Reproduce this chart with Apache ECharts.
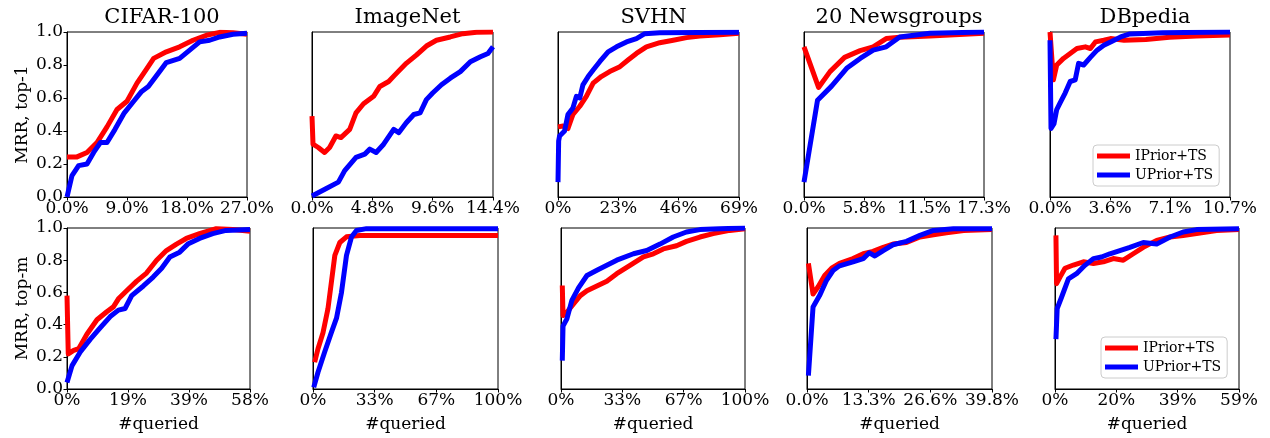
<!DOCTYPE html>
<html>
<head>
<meta charset="utf-8">
<script src="https://cdn.jsdelivr.net/npm/echarts@6/dist/echarts.min.js"></script>
<style>html,body{margin:0;padding:0;background:#fff;}#c{width:1270px;height:438px;}</style>
</head>
<body>
<div id="c"></div>
<script>
// ---------- Data (x = % queried, y = MRR) ----------
const datasets = ['CIFAR-100', 'ImageNet', 'SVHN', '20 Newsgroups', 'DBpedia'];
const rowLabels = ['MRR, top-1', 'MRR, top-m'];
const seriesNames = ['IPrior+TS', 'UPrior+TS'];

// Top row x-axis ranges and tick labels
const top1XMax = [27.0, 14.4, 69, 17.3, 10.7];
const top1Ticks = [
  ['0.0%', '9.0%', '18.0%', '27.0%'],
  ['0.0%', '4.8%', '9.6%', '14.4%'],
  ['0%', '23%', '46%', '69%'],
  ['0.0%', '5.8%', '11.5%', '17.3%'],
  ['0.0%', '3.6%', '7.1%', '10.7%']
];
// Bottom row
const topmXMax = [58, 100, 100, 39.8, 59];
const topmTicks = [
  ['0%', '19%', '39%', '58%'],
  ['0%', '33%', '67%', '100%'],
  ['0%', '33%', '67%', '100%'],
  ['0.0%', '13.3%', '26.6%', '39.8%'],
  ['0%', '20%', '39%', '59%']
];
const yTicks = ['0.0', '0.2', '0.4', '0.6', '0.8', '1.0'];

// CIFAR-100, top-1
const cifarTop1_IPrior = [[0,0.243],[1.5,0.243],[3,0.27],[4.5,0.33],[6,0.425],[7.5,0.53],[9,0.58],[10.5,0.69],[12,0.78],[13,0.84],[14.9,0.88],[16.9,0.91],[18.9,0.95],[20.9,0.98],[22.9,0.998],[24.9,0.996],[27,0.986]];
const cifarTop1_UPrior = [[0,0],[0.75,0.13],[1.74,0.19],[3,0.2],[4,0.27],[5,0.33],[6,0.33],[7.2,0.41],[8.6,0.51],[10,0.58],[11.2,0.64],[12.2,0.67],[13.5,0.74],[14.9,0.815],[16.9,0.84],[18.4,0.89],[19.9,0.94],[21.4,0.95],[22.9,0.97],[24.9,0.986],[27,0.992]];
// ImageNet, top-1
const imagenetTop1_IPrior = [[0,0.49],[0.08,0.32],[0.5,0.30],[1.0,0.27],[1.4,0.30],[1.9,0.37],[2.3,0.36],[3.0,0.41],[3.5,0.51],[4.1,0.565],[4.9,0.61],[5.4,0.67],[6.1,0.70],[6.6,0.74],[7.5,0.81],[8.3,0.86],[9.1,0.915],[9.9,0.95],[11.0,0.97],[12.0,0.99],[13.1,0.998],[14.4,1.0]];
const imagenetTop1_UPrior = [[0,0.006],[1.1,0.05],[2.1,0.09],[2.6,0.16],[3.5,0.24],[4.2,0.26],[4.6,0.29],[5.1,0.27],[5.7,0.32],[6.5,0.41],[6.9,0.39],[7.5,0.45],[8.1,0.50],[8.6,0.51],[9.1,0.59],[9.6,0.63],[10.3,0.68],[11.0,0.72],[11.8,0.76],[12.6,0.82],[13.4,0.85],[14.0,0.87],[14.4,0.91]];
// SVHN, top-1
const svhnTop1_IPrior = [[0,0.425],[1.9,0.43],[3.8,0.415],[5.7,0.50],[8.3,0.55],[10.8,0.61],[13.4,0.69],[16.5,0.73],[19.7,0.76],[23.6,0.79],[26.7,0.83],[29.9,0.87],[33.7,0.91],[38.8,0.935],[43.9,0.95],[49.0,0.966],[54.1,0.976],[61.7,0.984],[69,0.992]];
const svhnTop1_UPrior = [[0,0.09],[0.25,0.34],[0.6,0.37],[2.5,0.40],[3.8,0.50],[5.7,0.54],[7,0.61],[8.3,0.60],[9.5,0.68],[11.5,0.73],[13.4,0.77],[15.9,0.82],[19.1,0.88],[22.3,0.91],[26.1,0.94],[29.9,0.96],[33.1,0.99],[38.8,0.996],[69,0.998]];
// 20 Newsgroups, top-1
const newsTop1_IPrior = [[0,0.91],[1.4,0.664],[2.5,0.76],[3.9,0.846],[5.4,0.887],[6.65,0.91],[7.9,0.96],[9.2,0.968],[12.1,0.976],[17.3,0.992]];
const newsTop1_UPrior = [[0,0.09],[1.3,0.587],[2.65,0.672],[4.1,0.78],[5.4,0.84],[6.65,0.89],[7.9,0.91],[9.2,0.97],[12.1,0.992],[17.3,1.0]];
// DBpedia, top-1
const dbpediaTop1_IPrior = [[0,1.0],[0.08,0.99],[0.2,0.71],[0.4,0.80],[0.8,0.84],[1.2,0.87],[1.6,0.90],[2.1,0.91],[2.4,0.90],[2.7,0.94],[3.2,0.95],[3.6,0.96],[4.4,0.95],[5.7,0.955],[7.1,0.968],[8.7,0.976],[10.7,0.982]];
const dbpediaTop1_UPrior = [[0,0.95],[0.06,0.415],[0.24,0.445],[0.4,0.53],[0.6,0.57],[0.9,0.63],[1.2,0.70],[1.5,0.71],[1.7,0.81],[2.0,0.80],[2.4,0.846],[2.8,0.89],[3.2,0.92],[3.6,0.94],[4.2,0.97],[4.75,0.988],[6.7,0.996],[10.7,1.0]];

// CIFAR-100, top-m
const cifarTopm_IPrior = [[0,0.58],[0.4,0.218],[2.1,0.24],[3.7,0.25],[6.3,0.34],[9.5,0.43],[12.6,0.48],[14.7,0.51],[16.3,0.56],[18.9,0.61],[22.1,0.67],[25.2,0.72],[28.4,0.80],[31.5,0.86],[34.7,0.90],[37.8,0.935],[42,0.965],[47.3,0.996],[52.5,0.99],[58,0.98]];
const cifarTopm_UPrior = [[0,0.04],[1.6,0.145],[4.2,0.23],[7.4,0.31],[10.5,0.38],[13.7,0.45],[16.3,0.49],[18.4,0.50],[20.5,0.58],[24.2,0.64],[27.3,0.695],[30,0.75],[32.6,0.82],[35.7,0.85],[38.3,0.90],[42,0.935],[46.2,0.965],[50.4,0.985],[58,0.99]];
// ImageNet, top-m
const imagenetTopm_IPrior = [[0.9,0.166],[2.7,0.25],[5.4,0.35],[8.1,0.50],[9.9,0.66],[11.8,0.83],[14.5,0.91],[18.1,0.945],[25.3,0.954],[100,0.954]];
const imagenetTopm_UPrior = [[0.4,0.01],[2.7,0.104],[6.3,0.23],[9.9,0.35],[12.7,0.44],[15.4,0.60],[18.1,0.83],[20.8,0.944],[23.5,0.985],[28.9,0.996],[100,0.996]];
// SVHN, top-m
const svhnTopm_IPrior = [[0.7,0.643],[1.1,0.456],[3.2,0.477],[6.9,0.53],[10.5,0.58],[14.1,0.61],[19.5,0.64],[24.9,0.67],[30.3,0.716],[37.5,0.768],[44.8,0.82],[50.2,0.84],[55.6,0.87],[62.8,0.89],[68.2,0.917],[75.5,0.944],[82.7,0.965],[91.7,0.985],[100,0.996]];
const svhnTopm_UPrior = [[0.7,0.176],[1.1,0.39],[3.2,0.436],[5.9,0.55],[9.6,0.63],[14.1,0.705],[19.5,0.737],[24.9,0.768],[30.3,0.80],[39.4,0.84],[46.6,0.86],[53.8,0.90],[61,0.944],[68.2,0.975],[75.5,0.99],[86.3,0.996],[100,1.0]];
// 20 Newsgroups, top-m
const newsTopm_IPrior = [[0.3,0.78],[1.3,0.59],[2.4,0.635],[3.8,0.705],[5.3,0.75],[7.0,0.78],[9.9,0.81],[12.1,0.84],[14.2,0.855],[16.4,0.88],[18.5,0.90],[21.4,0.91],[24.3,0.944],[27.2,0.958],[30,0.97],[33.7,0.985],[39.8,0.99]];
const newsTopm_UPrior = [[0.3,0.083],[1.3,0.51],[2.7,0.58],[4.2,0.675],[5.6,0.736],[7.0,0.765],[9.9,0.79],[12.1,0.81],[13.4,0.846],[14.6,0.826],[16.4,0.86],[18.5,0.896],[21.4,0.917],[24.3,0.954],[27.2,0.985],[31.5,0.996],[39.8,0.996]];
// DBpedia, top-m
const dbpediaTopm_IPrior = [[0.3,0.954],[0.5,0.654],[1.6,0.695],[3.2,0.75],[5.9,0.77],[9.1,0.79],[12.3,0.78],[15.5,0.79],[18.7,0.81],[21.9,0.80],[25.1,0.84],[28.3,0.88],[32.6,0.923],[36.9,0.944],[41.1,0.954],[45.4,0.965],[51.8,0.985],[59,0.99]];
const dbpediaTopm_UPrior = [[0.3,0.31],[0.7,0.50],[2.1,0.57],[4.3,0.684],[6.9,0.716],[9.6,0.768],[12.3,0.81],[14.9,0.82],[17.6,0.84],[20.8,0.86],[24,0.88],[28.3,0.91],[32.6,0.90],[36.9,0.944],[41.1,0.975],[45.4,0.99],[59,0.996]];

const top1Red = [cifarTop1_IPrior, imagenetTop1_IPrior, svhnTop1_IPrior, newsTop1_IPrior, dbpediaTop1_IPrior];
const top1Blue = [cifarTop1_UPrior, imagenetTop1_UPrior, svhnTop1_UPrior, newsTop1_UPrior, dbpediaTop1_UPrior];
const topmRed = [cifarTopm_IPrior, imagenetTopm_IPrior, svhnTopm_IPrior, newsTopm_IPrior, dbpediaTopm_IPrior];
const topmBlue = [cifarTopm_UPrior, imagenetTopm_UPrior, svhnTopm_UPrior, newsTopm_UPrior, dbpediaTopm_UPrior];

// ---------- Layout ----------
const FONT = '"DejaVu Serif", serif';
const topLefts = [67, 312, 558, 804, 1050];
const topWidths = [180, 181, 181, 180, 180];
const botLefts = [67, 313, 561, 807, 1055];
const botWidths = [183, 185, 184, 185, 184];
const rows = [
  {top: 32, height: 165, lefts: topLefts, widths: topWidths, xMax: top1XMax, ticks: top1Ticks, red: top1Red, blue: top1Blue},
  {top: 228, height: 161, lefts: botLefts, widths: botWidths, xMax: topmXMax, ticks: topmTicks, red: topmRed, blue: topmBlue}
];

const grid = [], xAxis = [], yAxis = [], series = [], title = [];
rows.forEach((row, r) => {
  for (let c = 0; c < 5; c++) {
    const idx = r * 5 + c;
    grid.push({left: row.lefts[c], top: row.top, width: row.widths[c], height: row.height,
      show: true, borderColor: '#000', borderWidth: 1, backgroundColor: '#fff', containLabel: false});
    const xMax = row.xMax[c];
    const ticks = row.ticks[c];
    const step = xMax / 3;
    xAxis.push({
      type: 'value', gridIndex: idx, min: 0, max: xMax, interval: step,
      name: r === 1 ? '#queried' : '', nameLocation: 'middle', nameGap: 27,
      nameTextStyle: {fontFamily: FONT, fontSize: 17, color: '#000'},
      axisLine: {show: true, lineStyle: {color: '#000', width: 1}},
      axisTick: {show: true, length: 3.5, lineStyle: {color: '#000'}},
      splitLine: {show: false},
      axisLabel: {show: true, fontFamily: FONT, fontSize: 17, color: '#000', margin: 3,
        showMinLabel: true, showMaxLabel: true, hideOverlap: false,
        formatter: v => ticks[Math.round(v / step)] || ''}
    });
    yAxis.push({
      type: 'value', gridIndex: idx, min: 0, max: 1, interval: 0.2,
      name: c === 0 ? rowLabels[r] : '', nameLocation: 'middle', nameGap: 36, nameRotate: 90,
      nameTextStyle: {fontFamily: FONT, fontSize: 17, color: '#000'},
      axisLine: {show: true, lineStyle: {color: '#000', width: 1}},
      axisTick: {show: c === 0, length: 3.5, lineStyle: {color: '#000'}},
      splitLine: {show: false},
      axisLabel: {show: c === 0, fontFamily: FONT, fontSize: 17, color: '#000', margin: 4,
        formatter: v => yTicks[Math.round(v / 0.2)]}
    });
    series.push({
      name: seriesNames[0], type: 'line', xAxisIndex: idx, yAxisIndex: idx,
      data: row.red[c], showSymbol: false, symbol: 'none', clip: true,
      lineStyle: {color: '#ff0000', width: 5, join: 'round'}, itemStyle: {color: '#ff0000'}, z: 2
    });
    series.push({
      name: seriesNames[1], type: 'line', xAxisIndex: idx, yAxisIndex: idx,
      data: row.blue[c], showSymbol: false, symbol: 'none', clip: true,
      lineStyle: {color: '#0000ff', width: 5, join: 'round'}, itemStyle: {color: '#0000ff'}, z: 3
    });
    if (r === 0) {
      title.push({text: datasets[c], left: row.lefts[c] + row.widths[c] / 2, top: 2, textAlign: 'center',
        textStyle: {fontFamily: FONT, fontSize: 21, fontWeight: 'normal', color: '#000'}});
    }
  }
});

const legendCommon = {
  orient: 'vertical', data: seriesNames, icon: 'rect', itemWidth: 33, itemHeight: 5, itemGap: 5,
  backgroundColor: 'rgba(255,255,255,0.8)', borderColor: '#cccccc', borderWidth: 1, borderRadius: 4,
  padding: [4, 6, 4, 4],
  textStyle: {fontFamily: FONT, fontSize: 14, color: '#000'},
  selectedMode: false
};
const legend = [
  Object.assign({}, legendCommon, {left: 1093, top: 145}),
  Object.assign({}, legendCommon, {left: 1101, top: 337})
];

const chart = echarts.init(document.getElementById('c'), null, {renderer: 'canvas'});
chart.setOption({
  animation: false, backgroundColor: '#fff',
  title, grid, xAxis, yAxis, series, legend
});
</script>
</body>
</html>
